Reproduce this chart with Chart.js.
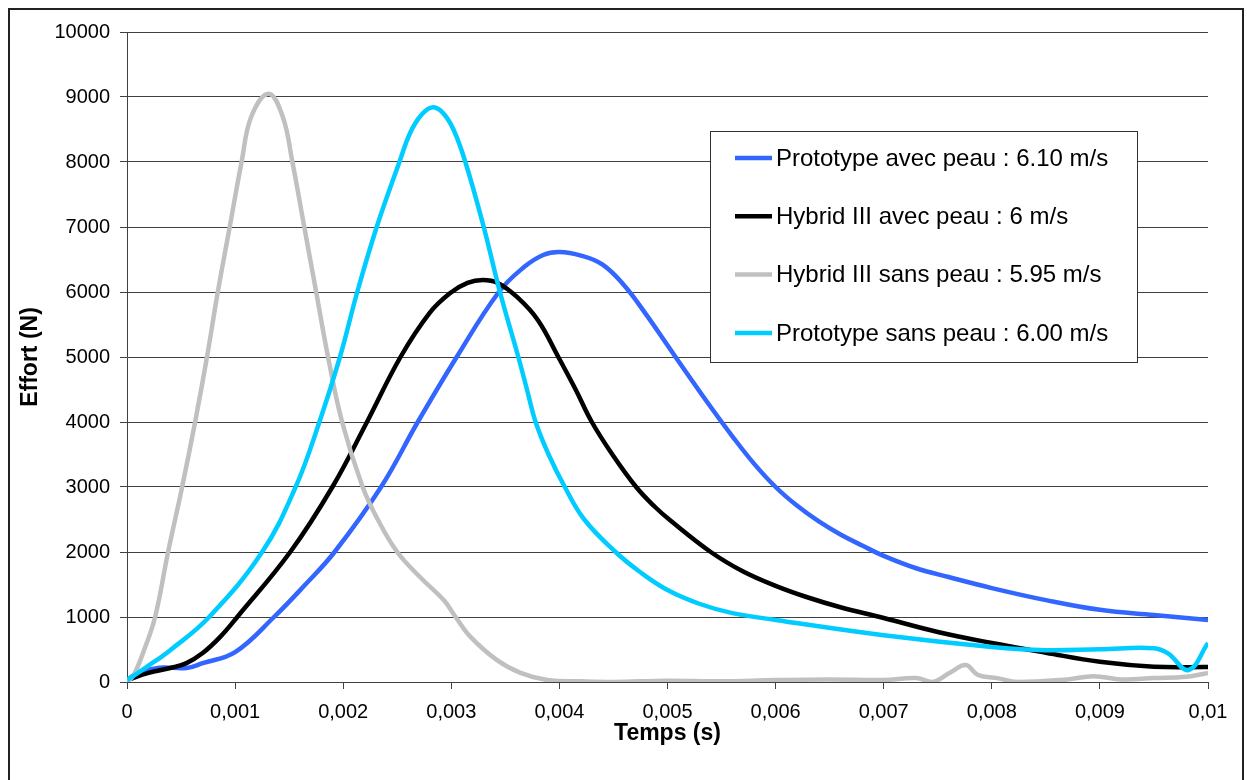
<!DOCTYPE html>
<html>
<head>
<meta charset="utf-8">
<script src="https://cdn.jsdelivr.net/npm/chart.js@4/dist/chart.umd.min.js"></script>
<style>
html, body { margin: 0; padding: 0; background: #fff; }
#wrap { position: relative; width: 1247px; height: 780px; overflow: hidden; }
#cadre { position: absolute; left: 8px; top: 8px; width: 1232px; height: 800px; border: 2px solid #222; pointer-events: none; }
</style>
</head>
<body>
<div id="wrap">
  <canvas id="graph" width="1247" height="780"></canvas>
  <div id="cadre"></div>
</div>
<script>
// --- Données (temps en s, effort en N) ---
const tProtoAvec = [0, 0.0001, 0.0003, 0.00055, 0.0007, 0.001, 0.00136, 0.00165, 0.00192, 0.00235, 0.00269, 0.00305, 0.00344, 0.00367, 0.00385, 0.004, 0.0042, 0.0044, 0.0046, 0.0048, 0.005, 0.0052, 0.0054, 0.0056, 0.0058, 0.006, 0.0062, 0.0064, 0.0066, 0.0068, 0.007, 0.0073, 0.0076, 0.008, 0.0085, 0.009, 0.0095, 0.01];
const fProtoAvec = [30, 140, 220, 215, 290, 460, 1000, 1500, 2000, 3000, 4000, 5000, 6000, 6380, 6570, 6615, 6560, 6420, 6100, 5660, 5180, 4700, 4230, 3780, 3360, 3000, 2710, 2470, 2270, 2100, 1940, 1750, 1615, 1445, 1260, 1110, 1030, 955];

const tHybridAvec = [0, 0.0002, 0.0004, 0.00055, 0.0007, 0.00086, 0.00102, 0.00151, 0.0019, 0.00222, 0.00253, 0.0028, 0.00299, 0.00315, 0.00329, 0.00343, 0.00361, 0.0038, 0.00399, 0.00415, 0.0043, 0.00449, 0.00471, 0.00488, 0.00503, 0.0054, 0.0057, 0.006, 0.0063, 0.0066, 0.007, 0.0075, 0.008, 0.0085, 0.009, 0.0095, 0.01];
const fHybridAvec = [30, 140, 215, 290, 445, 690, 1000, 2000, 3000, 4000, 5000, 5680, 5985, 6140, 6185, 6140, 5920, 5570, 5000, 4500, 4000, 3500, 3000, 2700, 2480, 2000, 1700, 1480, 1300, 1150, 985, 770, 600, 450, 310, 235, 230];

const tHybridSans = [0, 0.00006, 0.00016, 0.00026, 0.00038, 0.00051, 0.00063, 0.00074, 0.00084, 0.00095, 0.00106, 0.00115, 0.00131, 0.00144, 0.00153, 0.00164, 0.00175, 0.00186, 0.00199, 0.00218, 0.00232, 0.0025, 0.00271, 0.00293, 0.00304, 0.00318, 0.00342, 0.00364, 0.00389, 0.0042, 0.0045, 0.005, 0.0055, 0.006, 0.0065, 0.007, 0.0073, 0.00745, 0.00762, 0.00776, 0.00787, 0.00805, 0.00824, 0.0087, 0.00894, 0.0092, 0.0095, 0.0098, 0.01];
const fHybridSans = [0, 100, 500, 1000, 2000, 3000, 4000, 5000, 6000, 7000, 8000, 8700, 9050, 8700, 8000, 7000, 6000, 5000, 4000, 3000, 2500, 2000, 1615, 1260, 1000, 690, 340, 140, 30, 10, 0, 20, 10, 30, 40, 30, 60, 0, 150, 260, 110, 60, 0, 40, 90, 40, 60, 80, 140];

const tProtoSans = [0, 0.00018, 0.0004, 0.00076, 0.00125, 0.00156, 0.00178, 0.00197, 0.00213, 0.00231, 0.00252, 0.00262, 0.00272, 0.00282, 0.00292, 0.00302, 0.00313, 0.0033, 0.00345, 0.00362, 0.0037, 0.00378, 0.0039, 0.00405, 0.00423, 0.00452, 0.00474, 0.005, 0.0053, 0.0056, 0.006, 0.007, 0.008, 0.0085, 0.009, 0.0095, 0.00963, 0.00982, 0.01];
const fProtoSans = [30, 230, 490, 1000, 2000, 3000, 4000, 5000, 6000, 7000, 8000, 8450, 8720, 8840, 8760, 8500, 8000, 7000, 6000, 5000, 4500, 4000, 3500, 3000, 2500, 2000, 1700, 1415, 1200, 1060, 955, 720, 540, 490, 505, 520, 440, 185, 600];

const libelles = ['Prototype avec peau : 6.10 m/s', 'Hybrid III avec peau : 6 m/s', 'Hybrid III sans peau : 5.95 m/s', 'Prototype sans peau : 6.00 m/s'];
const couleurs = ['#3366FF', '#000000', '#C0C0C0', '#00CCFF'];

const yTicks = [0, 1000, 2000, 3000, 4000, 5000, 6000, 7000, 8000, 9000, 10000];

function points(ts, fs) {
    return ts.map((t, i) => ({ x: t, y: fs[i] }));
}

const police = '"Liberation Sans", Arial, sans-serif';

// Légende encadrée dans la zone du graphique
const cadreLegende = {
    id: 'cadreLegende',
    afterDraw(chart) {
        const c = chart.ctx;
        c.save();
        c.fillStyle = '#fff';
        c.fillRect(710, 131, 427, 231);
        c.strokeStyle = '#333';
        c.lineWidth = 1;
        c.strokeRect(710.5, 131.5, 427, 231);
        c.font = '24px ' + police;
        c.textBaseline = 'middle';
        chart.data.datasets.forEach((ds, i) => {
            const y = 158 + i * 58.3;
            c.strokeStyle = ds.borderColor;
            c.lineWidth = 4.5;
            c.beginPath();
            c.moveTo(735, y);
            c.lineTo(772, y);
            c.stroke();
            c.fillStyle = '#000';
            c.fillText(ds.label, 776, y + 1);
        });
        c.restore();
    }
};

const series = [
    points(tProtoAvec, fProtoAvec),
    points(tHybridAvec, fHybridAvec),
    points(tHybridSans, fHybridSans),
    points(tProtoSans, fProtoSans)
];
const ordre = [3, 2, 1, 0];

new Chart(document.getElementById('graph'), {
    type: 'line',
    data: {
        datasets: series.map((d, i) => ({
            label: libelles[i],
            data: d,
            borderColor: couleurs[i],
            backgroundColor: couleurs[i],
            borderWidth: 4.5,
            pointRadius: 0,
            fill: false,
            tension: 0.4,
            order: ordre[i]
        }))
    },
    options: {
        responsive: false,
        animation: false,
        layout: { padding: { left: 0, top: 32, right: 39, bottom: 0 } },
        plugins: { legend: { display: false }, tooltip: { enabled: false } },
        scales: {
            x: {
                type: 'linear',
                min: 0,
                max: 0.01,
                afterFit: s => { s.height = 98; },
                ticks: {
                    stepSize: 0.001,
                    autoSkip: false,
                    maxRotation: 0,
                    padding: 11,
                    color: '#000',
                    font: { family: police, size: 20 },
                    callback: v => parseFloat(v.toFixed(4)).toString().replace('.', ',')
                },
                grid: { drawOnChartArea: false, drawTicks: true, tickLength: 7, color: '#404040' },
                border: { display: true, color: '#404040', width: 1 },
                title: {
                    display: true,
                    text: 'Temps (s)',
                    color: '#000',
                    font: { family: police, size: 23, weight: 'bold' },
                    padding: { top: 0, bottom: 33 }
                }
            },
            y: {
                min: 0,
                max: 10000,
                afterFit: s => { s.width = 127; },
                afterBuildTicks: s => { s.ticks = yTicks.map(v => ({ value: v })); },
                ticks: {
                    padding: 10,
                    color: '#000',
                    font: { family: police, size: 20 },
                    callback: v => String(v)
                },
                grid: { color: '#404040', tickLength: 7 },
                border: { display: true, color: '#404040', width: 1 },
                title: {
                    display: true,
                    text: 'Effort (N)',
                    color: '#000',
                    font: { family: police, size: 23, weight: 'bold' },
                    padding: { top: 17, bottom: 0 }
                }
            }
        }
    },
    plugins: [cadreLegende]
});
</script>
</body>
</html>
